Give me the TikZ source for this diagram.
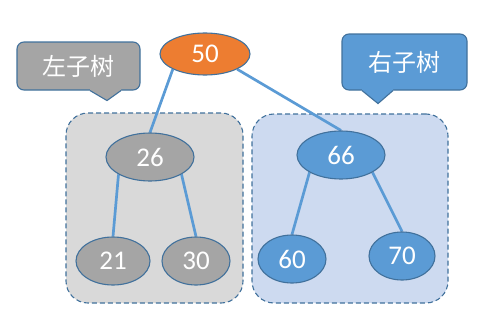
\documentclass[tikz,border=0pt]{standalone}
\usepackage{fontspec}
\setmainfont{Carlito}
\newfontfamily\cjk{Noto Sans CJK SC}
\usetikzlibrary{positioning, shapes.geometric, backgrounds, calc}

\definecolor{keygray}{HTML}{A5A5A5}
\definecolor{keyblue}{HTML}{5B9BD5}
\definecolor{keyorange}{HTML}{ED7D31}
\definecolor{rimblue}{HTML}{41719C}
\definecolor{bandgray}{HTML}{D9D9D9}
\definecolor{bandblue}{HTML}{CDDAF0}

\begin{document}
\begin{tikzpicture}[
    x=1pt, y=-1pt,
    key/.style={
        ellipse, draw=rimblue, line width=1.1pt, inner sep=0pt,
        minimum height=48pt, text=white,
        font=\fontsize{27}{29}\selectfont},
    rootkey/.style={key, fill=keyorange},    % root
    lkey/.style={key, fill=keygray},         % left subtree
    rkey/.style={key, fill=keyblue},         % right subtree
    edge/.style={line width=2.7pt, keyblue},
    band/.style={draw=rimblue, line width=1.1pt, dash pattern=on 5pt off 3pt,
                 rounded corners=22pt},
    tag/.style={draw=rimblue, line width=1.1pt, rounded corners=7pt,
                text=white, font=\cjk\fontsize{24}{26}\selectfont},
]
\useasboundingbox (0,0) rectangle (500,332);

% ============================ keys ======================================
\node[rootkey, minimum width=90pt, minimum height=42pt] (n50) at (205,54) {50};

\node[lkey, minimum width=88pt] (n26) at (150,157) {26};
\node[lkey, minimum width=74pt] (n21) at (113,261) {21};
\node[lkey, minimum width=68pt] (n30) at (196,261) {30};

\node[rkey, minimum width=88pt] (n66) at (341,155) {66};
\node[rkey, minimum width=68pt] (n60) at (292,259) {60};
\node[rkey, minimum width=66pt] (n70) at (402,256) {70};

% ============================ subtree bands + links =====================
\begin{scope}[on background layer]
  \node[band, fill=bandgray, minimum width=177pt, minimum height=190pt]
    (lband) at (154.5,208) {};
  \node[band, fill=bandblue, minimum width=196pt, minimum height=189pt]
    (rband) at (350,208.5) {};
  \draw[edge] (n50.south west) -- (n26.north);
  \draw[edge] (n50.south east) -- (n66.north);
  \draw[edge] (n26.south west) -- (n21.north);
  \draw[edge] (n26.south east) -- (n30.north);
  \draw[edge] (n66.south west) -- (n60.north);
  \draw[edge] (n66.south east) -- (n70.north);
\end{scope}

% ============================ tags ======================================
\node[tag, fill=keygray, minimum width=123pt, minimum height=48pt]
  (ltag) at (78.5,66) {左子树};
\fill[keygray] ($(ltag.south)+(11.5,-1.5)$) -- ($(ltag.south)+(11.5,0)$)
  -- ($(ltag.south)+(28.5,10)$) -- ($(ltag.south)+(42.5,0)$)
  -- ($(ltag.south)+(42.5,-1.5)$) -- cycle;
\draw[rimblue, line width=1.1pt] ($(ltag.south)+(11.5,0)$)
  -- ($(ltag.south)+(28.5,10)$) -- ($(ltag.south)+(42.5,0)$);

\node[tag, fill=keyblue, minimum width=125pt, minimum height=56pt]
  (rtag) at (404.5,62) {右子树};
\fill[keyblue] ($(rtag.south)+(-42.5,-1.5)$) -- ($(rtag.south)+(-42.5,0)$)
  -- ($(rtag.south)+(-26.5,13)$) -- ($(rtag.south)+(-11.5,0)$)
  -- ($(rtag.south)+(-11.5,-1.5)$) -- cycle;
\draw[rimblue, line width=1.1pt] ($(rtag.south)+(-42.5,0)$)
  -- ($(rtag.south)+(-26.5,13)$) -- ($(rtag.south)+(-11.5,0)$);

\end{tikzpicture}
\end{document}
